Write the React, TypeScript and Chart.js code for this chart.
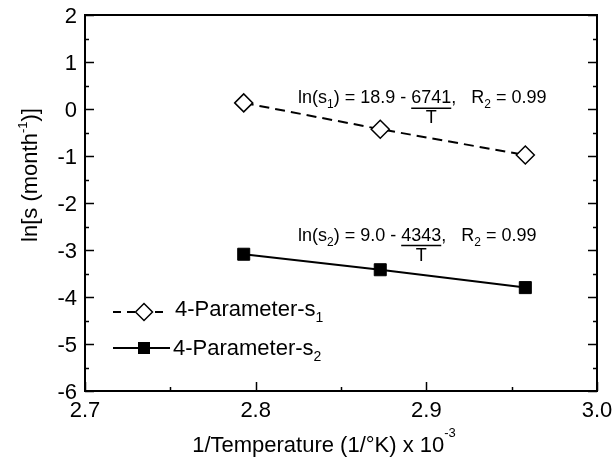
import React, { useEffect, useRef } from 'react';
import { Chart, registerables } from 'chart.js';

Chart.register(...registerables);

// ---- data ----
const invTemperature = [2.793, 2.873, 2.958];
const lnS1 = [0.13, -0.43, -0.98];
const lnS2 = [-3.09, -3.42, -3.8];
const xTickValues = [2.7, 2.8, 2.9, 3.0];
const yTickValues = [-6, -5, -4, -3, -2, -1, 0, 1, 2];
const seriesNames = ['4-Parameter-s', '4-Parameter-s'];
const seriesSubs = ['1', '2'];
const eqIntercepts = ['18.9', '9.0'];
const eqSlopes = ['6741', '4343'];
const eqR2 = ['0.99', '0.99'];
// annotation anchors (data units)
const eqAnchorX = [2.8248, 2.8248];
const eqAnchorY = [0.125, -2.8];

const FONT = '"Liberation Sans", Arial, Helvetica, sans-serif';

type Part = { t: string; sub?: boolean; sup?: boolean; frac?: string };

function drawRich(
  ctx: CanvasRenderingContext2D,
  parts: Part[],
  x: number,
  y: number,
  base: number,
  small: number,
  subDy: number,
  supDy: number,
  measureOnly = false
): number {
  let cx = x;
  for (const p of parts) {
    const size = p.sub || p.sup ? small : base;
    ctx.font = `${size}px ${FONT}`;
    const w = ctx.measureText(p.t).width;
    if (!measureOnly) {
      const dy = p.sub ? subDy : p.sup ? -supDy : 0;
      ctx.fillText(p.t, cx, y + dy);
      if (p.frac) {
        ctx.save();
        ctx.lineWidth = 1.5;
        ctx.beginPath();
        ctx.moveTo(cx, y + 5);
        ctx.lineTo(cx + w, y + 5);
        ctx.stroke();
        ctx.textAlign = 'center';
        ctx.fillText(p.frac, cx + w / 2, y + 20);
        ctx.restore();
      }
    }
    cx += w;
  }
  return cx - x;
}

function drawDiamond(ctx: CanvasRenderingContext2D, x: number, y: number, r: number) {
  ctx.save();
  ctx.setLineDash([]);
  ctx.beginPath();
  ctx.moveTo(x - r, y);
  ctx.lineTo(x, y - r);
  ctx.lineTo(x + r, y);
  ctx.lineTo(x, y + r);
  ctx.closePath();
  ctx.fillStyle = '#fff';
  ctx.fill();
  ctx.lineWidth = 1.5;
  ctx.strokeStyle = '#000';
  ctx.stroke();
  ctx.restore();
}

const decorPlugin = {
  id: 'decor',
  afterDraw(chart: any) {
    const ctx: CanvasRenderingContext2D = chart.ctx;
    const xs = chart.scales.x;
    const ys = chart.scales.y;
    const { left, right, top, bottom } = chart.chartArea;
    ctx.save();
    ctx.strokeStyle = '#000';
    ctx.fillStyle = '#000';

    // ticks (inward)
    ctx.lineWidth = 1.5;
    ctx.beginPath();
    for (let v = -6; v <= 2.001; v += 0.5) {
      const py = Math.round(ys.getPixelForValue(v)) + 0.5;
      const major = Math.abs(v - Math.round(v)) < 1e-6;
      const len = major ? 9 : 4;
      ctx.moveTo(left, py);
      ctx.lineTo(left + len, py);
      ctx.moveTo(right, py);
      ctx.lineTo(right - len, py);
    }
    for (let i = 0; i <= 6; i++) {
      const v = 2.7 + i * 0.05;
      const px = Math.round(xs.getPixelForValue(v)) + 0.5;
      const len = i % 2 === 0 ? 9 : 4;
      ctx.moveTo(px, bottom);
      ctx.lineTo(px, bottom - len);
    }
    ctx.stroke();

    // frame
    ctx.lineWidth = 2;
    ctx.strokeRect(left, top, right - left, bottom - top);

    // tick labels
    ctx.font = `22px ${FONT}`;
    ctx.textBaseline = 'alphabetic';
    ctx.textAlign = 'right';
    for (const v of yTickValues) {
      const py = ys.getPixelForValue(v);
      ctx.fillText(String(v), left - 8, py + 8);
    }
    ctx.textAlign = 'center';
    for (const v of xTickValues) {
      const px = xs.getPixelForValue(v);
      ctx.fillText(v.toFixed(1), px, bottom + 26);
    }

    // axis titles
    ctx.textAlign = 'left';
    const xTitle: Part[] = [{ t: '1/Temperature (1/°K) x 10' }, { t: '-3', sup: true }];
    const xw = drawRich(ctx, xTitle, 0, 0, 22, 13, 0, 15, true);
    drawRich(ctx, xTitle, 324 - xw / 2, 452, 22, 13, 0, 15);

    const yTitle: Part[] = [{ t: 'ln[s (month' }, { t: '-1', sup: true }, { t: ')]' }];
    const yw = drawRich(ctx, yTitle, 0, 0, 22, 13, 0, 10, true);
    ctx.save();
    ctx.translate(37, 175);
    ctx.rotate(-Math.PI / 2);
    drawRich(ctx, yTitle, -yw / 2, 0, 22, 13, 0, 10);
    ctx.restore();

    // equations
    for (let i = 0; i < 2; i++) {
      const ex = xs.getPixelForValue(eqAnchorX[i]);
      const ey = ys.getPixelForValue(eqAnchorY[i]);
      const parts: Part[] = [
        { t: 'ln(s' },
        { t: String(i + 1), sub: true },
        { t: `) = ${eqIntercepts[i]} - ` },
        { t: eqSlopes[i], frac: 'T' },
        { t: ',   R' },
        { t: '2', sub: true },
        { t: ` = ${eqR2[i]}` },
      ];
      drawRich(ctx, parts, ex, ey, 18, 12, 5, 0);
    }

    // legend
    const lx0 = left + 28;
    const rows = [top + 297, top + 333];
    for (let i = 0; i < 2; i++) {
      const ly = rows[i];
      ctx.save();
      ctx.lineWidth = 2;
      ctx.strokeStyle = '#000';
      ctx.setLineDash(i === 0 ? [8, 6] : []);
      ctx.beginPath();
      ctx.moveTo(lx0, ly);
      ctx.lineTo(lx0 + (i === 0 ? 52 : 57), ly);
      ctx.stroke();
      ctx.restore();
      const mx = lx0 + 31;
      if (i === 0) drawDiamond(ctx, mx, ly, 8.5);
      else ctx.fillRect(mx - 6, ly - 6, 12, 12);
      ctx.textAlign = 'left';
      const parts: Part[] = [{ t: seriesNames[i] }, { t: seriesSubs[i], sub: true }];
      drawRich(ctx, parts, lx0 + (i === 0 ? 62 : 60), ly + 4 + (i === 0 ? 0 : 3), 22, 14, 6, 0);
    }
    ctx.restore();
  },
};

export default function App() {
  const ref = useRef<HTMLCanvasElement>(null);
  useEffect(() => {
    if (!ref.current) return;
    const chart = new Chart(ref.current, {
      type: 'line',
      data: {
        datasets: [
          {
            label: seriesNames[0] + seriesSubs[0],
            data: invTemperature.map((x, i) => ({ x, y: lnS1[i] })),
            borderColor: '#000',
            borderWidth: 2,
            borderDash: [10, 6],
            pointStyle: 'rectRot',
            pointRadius: 9,
            pointBorderWidth: 1.5,
            pointBackgroundColor: '#fff',
            pointBorderColor: '#000',
            fill: false,
            tension: 0,
          },
          {
            label: seriesNames[1] + seriesSubs[1],
            data: invTemperature.map((x, i) => ({ x, y: lnS2[i] })),
            borderColor: '#000',
            borderWidth: 2,
            pointStyle: 'rect',
            pointRadius: 8.5,
            pointBorderWidth: 1,
            pointBackgroundColor: '#000',
            pointBorderColor: '#000',
            fill: false,
            tension: 0,
          },
        ],
      },
      options: {
        animation: false,
        responsive: false,
        layout: { padding: { left: 0, top: 15, right: 16, bottom: 0 } },
        plugins: { legend: { display: false }, tooltip: { enabled: false } },
        scales: {
          x: {
            type: 'linear',
            min: 2.7,
            max: 3.0,
            ticks: { display: false, stepSize: 0.1 },
            grid: { display: false, drawTicks: false },
            border: { display: false },
            afterFit: (s: any) => {
              s.height = 68;
            },
          },
          y: {
            type: 'linear',
            min: -6,
            max: 2,
            ticks: { display: false, stepSize: 1 },
            grid: { display: false, drawTicks: false },
            border: { display: false },
            afterFit: (s: any) => {
              s.width = 85;
            },
          },
        },
      },
      plugins: [decorPlugin],
    } as any);
    return () => chart.destroy();
  }, []);
  return (
    <div style={{ position: 'absolute', left: 0, top: 0, width: 613, height: 459, background: '#fff' }}>
      <canvas ref={ref} width={613} height={459} />
    </div>
  );
}
